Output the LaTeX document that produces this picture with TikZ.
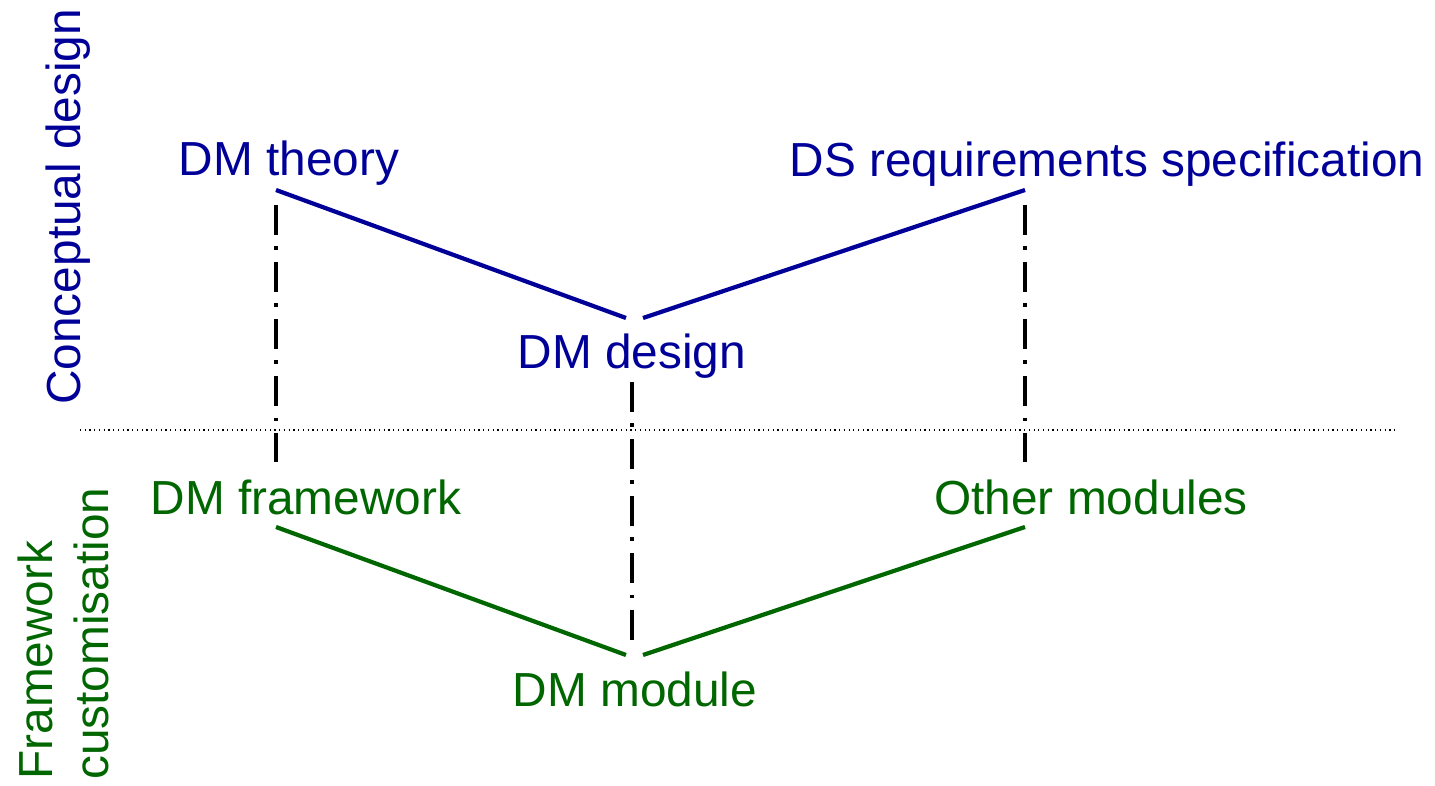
\documentclass[tikz,border=0pt]{standalone}
\usepackage{fontspec}
\setmainfont{Liberation Sans}
\usetikzlibrary{positioning}
\definecolor{conceptblue}{RGB}{0,0,153}
\definecolor{customgreen}{RGB}{0,102,0}

\begin{document}
\begin{tikzpicture}[
     x=0.02cm, y=-0.02cm,
     % define styles
     stage/.style={
         font=\fontsize{27.2}{34}\selectfont,
         inner sep=0pt,
         anchor=base
     },
     designtext/.style={ stage, text=conceptblue },
     customtext/.style={ stage, text=customgreen },
     phase/.style={ stage, rotate=90, anchor=base west },
     link/.style={ line width=2.4pt },
     trace/.style={
         line width=2pt,
         dash pattern=on 17pt off 6.5pt on 2pt off 7pt
     },
     divider/.style={
         line width=0.7pt,
         dash pattern=on 0.7pt off 2pt
     }
]
\useasboundingbox (0,0) rectangle (1435,786);

% phase headings
\node[phase, text=conceptblue] (conceptual) at (80,405) {Conceptual design};
\node[phase, text=customgreen] (framework) at (52,780) {Framework};
\node[phase, text=customgreen] (customisation) at (108,780) {customisation};

% conceptual design stages
\node[designtext] (theory) at (289,176) {DM theory};
\node[designtext] (spec) at (1107,177) {DS requirements specification};
\node[designtext] (design) at (632,369) {DM design};

% customisation stages
\node[customtext] (dmframe) at (306,514) {DM framework};
\node[customtext] (others) at (1091,514) {Other modules};
\node[customtext] (module) at (635,706) {DM module};

% ends of the V lines
\coordinate (theory-end) at (276,190);
\coordinate (design-left) at (626,318);
\coordinate (design-right) at (643,318);
\coordinate (spec-end) at (1025,190);
\coordinate (dmframe-end) at (276,527);
\coordinate (module-left) at (626,655);
\coordinate (module-right) at (643,655);
\coordinate (others-end) at (1025,527);

\draw[link, conceptblue] (theory-end) -- (design-left);
\draw[link, conceptblue] (design-right) -- (spec-end);
\draw[link, customgreen] (dmframe-end) -- (module-left);
\draw[link, customgreen] (module-right) -- (others-end);

% vertical traces between the two phases
\foreach \name/\x/\top/\bot in {left/276/205/462, mid/632/382/640, right/1025/205/462} {
    \coordinate (\name-top) at (\x,\top);
    \coordinate (\name-bot) at (\x,\bot);
    \draw[trace] (\name-top) -- (\name-bot);
}

% dotted line splitting the phases
\coordinate (split-w) at (80,430);
\coordinate (split-e) at (1395,430);
\draw[divider] (split-w) -- (split-e);
\end{tikzpicture}
\end{document}
